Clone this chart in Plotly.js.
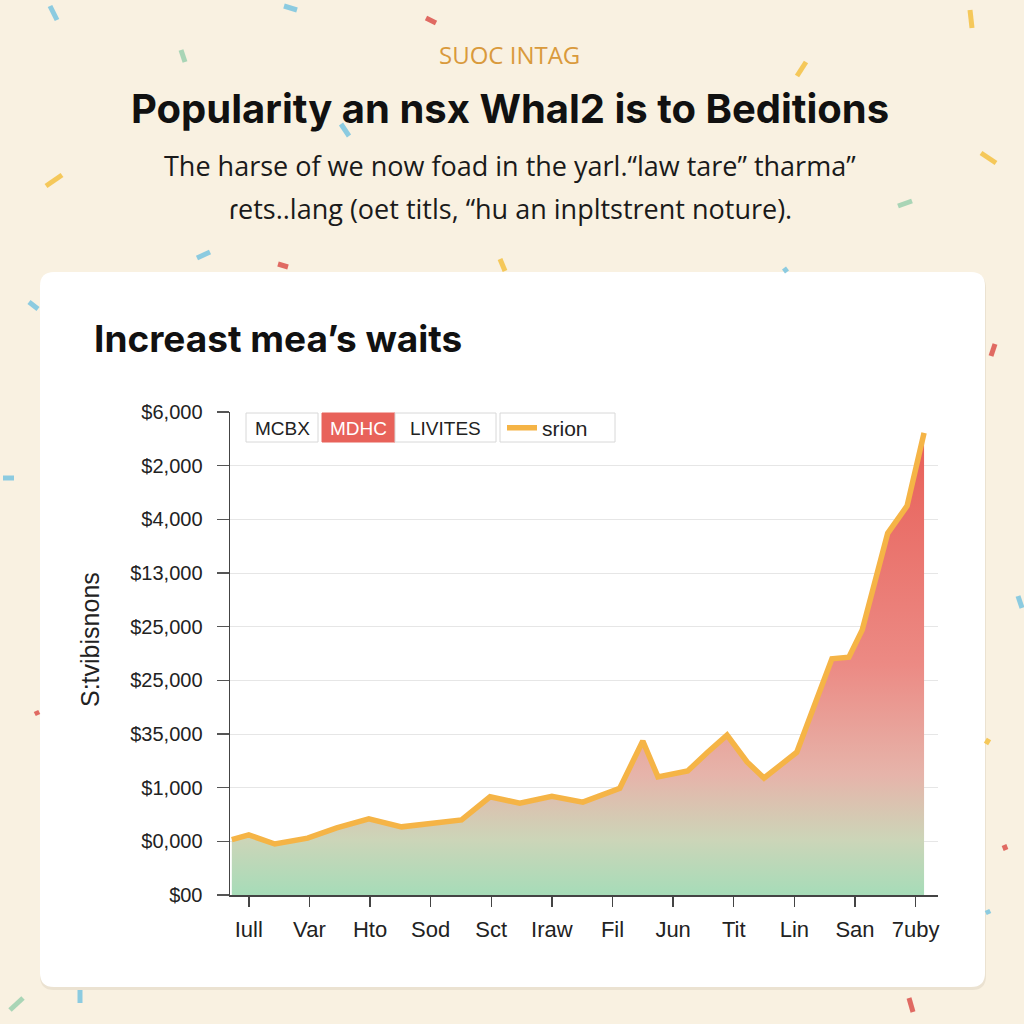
<!DOCTYPE html>
<html>
<head>
<meta charset="utf-8">
<script src="https://cdn.plot.ly/plotly-3.0.1.min.js"></script>
<style>
html,body{margin:0;padding:0;background:#f9f1e1;}
#chart{width:1024px;height:1024px;}
</style>
</head>
<body>
<div id="chart"></div>
<script>
// ---- Data ----
const xTickLabels = ["Iull","Var","Hto","Sod","Sct","Iraw","Fil","Jun","Tit","Lin","San","7uby"];
const yTickLabels = ["$00","$0,000","$1,000","$35,000","$25,000","$25,000","$13,000","$4,000","$2,000","$6,000"];
const seriesX = [-0.28,0.0,0.43,0.97,1.45,1.98,2.52,3.04,3.51,3.98,4.47,5.00,5.51,6.12,6.50,6.75,7.24,7.56,7.89,8.22,8.50,9.04,9.62,9.90,10.12,10.54,10.86,11.14];
const seriesY = [1.03,1.12,0.95,1.06,1.25,1.42,1.27,1.34,1.40,1.83,1.71,1.84,1.73,1.99,2.87,2.20,2.31,2.65,2.98,2.48,2.18,2.66,4.40,4.43,4.94,6.74,7.25,8.61];
const seriesName = "srion";
const legendBoxes = ["MCBX","MDHC","LIVITES"];

// ---- Layout geometry (pixels) ----
const W = 1024, H = 1024;
const L = 230, R = 938, T = 412, B = 895;
const px = p => (p - L) / (R - L);
const py = p => (B - p) / (B - T);

function roundRect(x0, y0, x1, y1, r) {
  const X = v => px(v), Y = v => py(v);
  return `M ${X(x0+r)} ${Y(y0)} L ${X(x1-r)} ${Y(y0)} Q ${X(x1)} ${Y(y0)} ${X(x1)} ${Y(y0+r)} ` +
         `L ${X(x1)} ${Y(y1-r)} Q ${X(x1)} ${Y(y1)} ${X(x1-r)} ${Y(y1)} ` +
         `L ${X(x0+r)} ${Y(y1)} Q ${X(x0)} ${Y(y1)} ${X(x0)} ${Y(y1-r)} ` +
         `L ${X(x0)} ${Y(y0+r)} Q ${X(x0)} ${Y(y0)} ${X(x0+r)} ${Y(y0)} Z`;
}

const shapes = [];
// card shadow + card
shapes.push({type:'path', xref:'paper', yref:'paper', layer:'below', path: roundRect(40,274,986,990,14), fillcolor:'rgba(120,100,70,0.10)', line:{width:0}});
shapes.push({type:'path', xref:'paper', yref:'paper', layer:'below', path: roundRect(40,272,985,987,14), fillcolor:'#ffffff', line:{width:0}});

// confetti [x0,y0,x1,y1,color]
const confetti = [
  [50,6,57,20,'#8ccbe0'],[284,6,297,10,'#8ccbe0'],[426,18,436,23,'#e06a62'],
  [970,10,972,28,'#f5c85a'],[181,50,185,62,'#a9d5b6'],[797,76,806,62,'#f5c85a'],
  [341,124,349,136,'#8ccbe0'],[46,186,62,175,'#f5c85a'],[981,153,996,163,'#f5c85a'],
  [898,206,912,201,'#a9d5b6'],[197,258,210,252,'#8ccbe0'],[278,264,288,267,'#e06a62'],
  [500,259,505,271,'#f5c85a'],[784,268,787,272,'#8ccbe0'],[29,302,38,309,'#8ccbe0'],
  [995,344,991,356,'#e06a62'],[3,478,14,478,'#8ccbe0'],[1018,596,1022,608,'#8ccbe0'],
  [36,711,38,715,'#e06a62'],[986,744,989,739,'#f5c85a'],[987,910,989,914,'#8ccbe0'],
  [909,998,913,1012,'#e06a62'],[10,1010,23,998,'#a9d5b6'],[80,990,80,1003,'#8ccbe0'],
  [1004,845,1006,850,'#e06a62']
];
confetti.forEach(c => shapes.push({type:'line', xref:'paper', yref:'paper', layer:'below',
  x0:px(c[0]), y0:py(c[1]), x1:px(c[2]), y1:py(c[3]), line:{color:c[4], width:5}}));

// legend-style boxes
const boxGeom = [[246,413,318,442,'#ffffff','#d8d8d8','#222'],[322,413,395,442,'#e8625a','#e8625a','#ffffff'],[395,413,496,442,'#ffffff','#d8d8d8','#222']];
boxGeom.forEach(b => shapes.push({type:'rect', xref:'paper', yref:'paper', layer:'above',
  x0:px(b[0]), y0:py(b[1]), x1:px(b[2]), y1:py(b[3]), fillcolor:b[4], line:{color:b[5], width:1}}));
// frame around the real legend
shapes.push({type:'rect', xref:'paper', yref:'paper', layer:'above',
  x0:px(500), y0:py(413), x1:px(615), y1:py(442), fillcolor:'rgba(255,255,255,0)', line:{color:'#d8d8d8', width:1}});

const annotations = [];
const txt = (text, x, y, size, opts) => annotations.push(Object.assign({
  text, x:px(x), y:py(y), xref:'paper', yref:'paper', showarrow:false,
  xanchor:'center', yanchor:'middle', font:{size, color:'#1a1a1a', family:'Liberation Sans, Arial, sans-serif'}
}, opts || {}));

txt("SUOC INTAG", 509, 54, 24, {font:{size:24, color:'#d99a3c', family:'Open Sans, sans-serif', weight:500}});
txt("Popularity an nsx Whal2 is to Beditions", 510, 108, 40, {font:{size:40, color:'#111', family:'Inter, sans-serif', weight:700}});
txt("The harse of we now foad in the yarl.“law tare” tharma”", 510, 165, 27, {font:{size:27, color:'#1a1a1a', family:'Open Sans, sans-serif'}});
txt("ɾets..lang (oet titls, “hu an inpltstrent noture).", 510, 208, 27, {font:{size:27, color:'#1a1a1a', family:'Open Sans, sans-serif'}});
txt("Increast mea’s waits", 92, 338, 37, {xanchor:'left', font:{size:37, color:'#111', family:'Inter, sans-serif', weight:700}});
txt("S:tvibisnons", 90, 640, 25, {textangle:-90, font:{size:25, color:'#222', family:'Liberation Sans, sans-serif'}});
legendBoxes.forEach((t, i) => {
  const b = boxGeom[i];
  txt(t, (b[0]+b[2])/2, 428, 19, {font:{size:19, color:b[6], family:'Liberation Sans, sans-serif'}});
});

const traces = [
  {x: seriesX, y: seriesY, type:'scatter', mode:'lines', fill:'tozeroy', showlegend:false, hoverinfo:'skip',
   line:{width:0, color:'rgba(0,0,0,0)'},
   fillgradient:{type:'vertical', start:0, stop:8.6,
     colorscale:[[0,'#a6dcb8'],[0.12,'#ccd5b8'],[0.26,'#e6b4aa'],[0.5,'#ec8a84'],[1,'#e85f58']]}},
  {x: seriesX, y: seriesY, type:'scatter', mode:'lines', name: seriesName, showlegend:true,
   line:{width:5.5, color:'#f5b446'}}
];

const layout = {
  width:W, height:H,
  paper_bgcolor:'#f9f1e1', plot_bgcolor:'rgba(0,0,0,0)',
  margin:{l:L, r:W-R, t:T, b:H-B, pad:0},
  font:{family:'Liberation Sans, Arial, sans-serif', color:'#333'},
  xaxis:{range:[-0.31,11.37], tickvals: xTickLabels.map((_, i) => i), ticktext: xTickLabels,
    showgrid:false, zeroline:false, showline:true, linecolor:'#444', linewidth:1.5,
    ticks:'outside', ticklen:10, tickcolor:'#444', tickwidth:1.5, ticklabelstandoff:4,
    tickfont:{size:22, color:'#222'}, fixedrange:true},
  yaxis:{range:[0,9], tickvals: yTickLabels.map((_, i) => i), ticktext: yTickLabels,
    showgrid:true, gridcolor:'#e6e6e6', gridwidth:1, zeroline:false, showline:true, linecolor:'#444', linewidth:1.5,
    ticks:'outside', ticklen:12, tickcolor:'#555', tickwidth:1.2, ticklabelstandoff:10,
    tickfont:{size:20, color:'#222'}, fixedrange:true},
  legend:{x:px(502), y:py(428), xanchor:'left', yanchor:'middle', orientation:'h',
    bgcolor:'rgba(255,255,255,0)', borderwidth:0, font:{size:21, color:'#222'},
    itemwidth:30},
  shapes, annotations
};

Plotly.newPlot('chart', traces, layout, {displayModeBar:false, staticPlot:true});
</script>
</body>
</html>
